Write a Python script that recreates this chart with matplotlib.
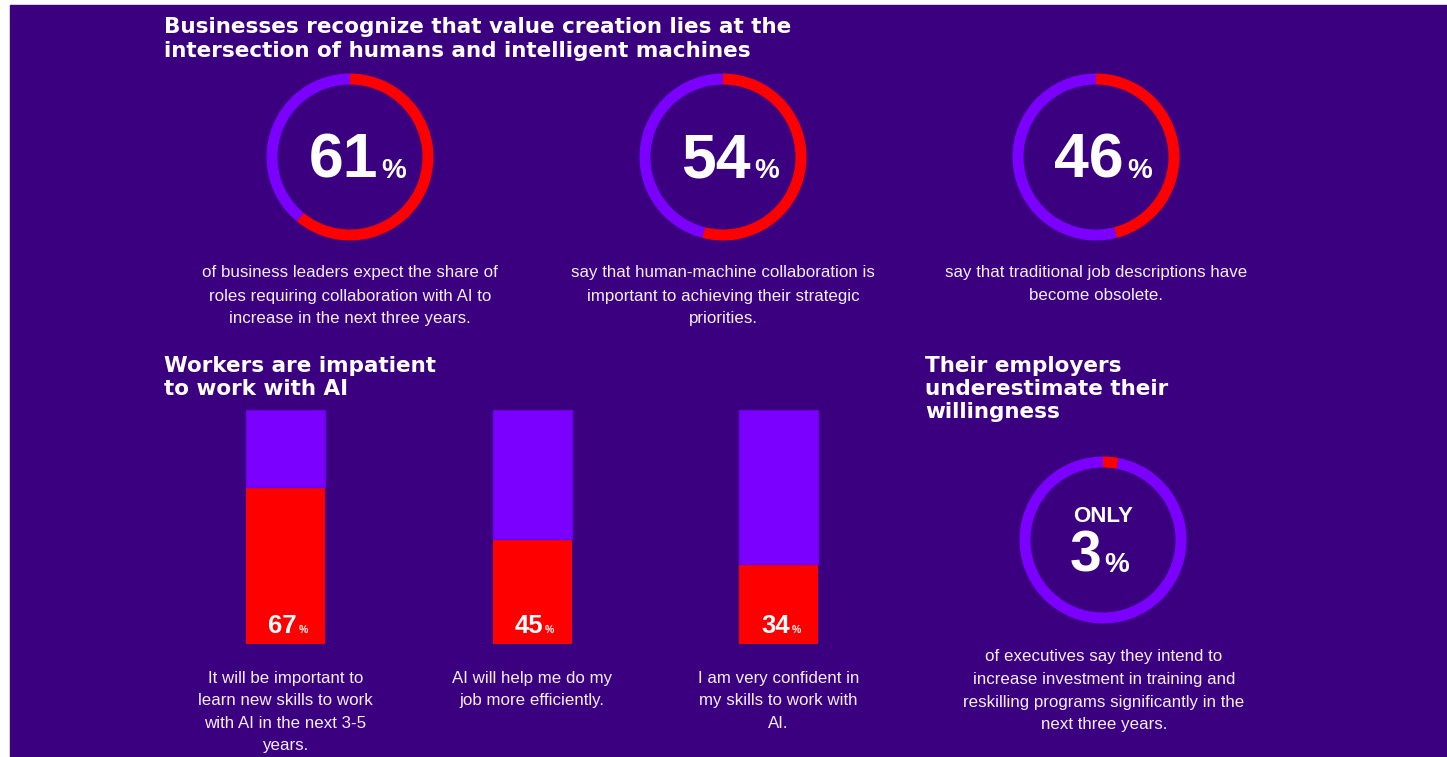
import matplotlib
matplotlib.use('Agg')
import matplotlib.pyplot as plt
from matplotlib.patches import Rectangle
import numpy as np

# 画布尺寸（像素）
W, H = 1447, 757

# 数据
ring_values = [61, 54, 46]
ring_captions = [
    ['of business leaders expect the share of',
     'roles requiring collaboration with AI to',
     'increase in the next three years.'],
    ['say that human-machine collaboration is',
     'important to achieving their strategic',
     'priorities.'],
    ['say that traditional job descriptions have',
     'become obsolete.'],
]
bar_values = np.array([67, 45, 34])
bar_captions = [
    ['It will be important to', 'learn new skills to work',
     'with AI in the next 3-5', 'years.'],
    ['AI will help me do my', 'job more efficiently.'],
    ['I am very confident in', 'my skills to work with', 'AI.'],
]
only_value = 3
only_caption = ['of executives say they intend to',
                'increase investment in training and',
                'reskilling programs significantly in the',
                'next three years.']

title1 = ['Businesses recognize that value creation lies at the',
          'intersection of humans and intelligent machines']
title2 = ['Workers are impatient', 'to work with AI']
title3 = ['Their employers', 'underestimate their', 'willingness']

BG = '#3a0080'
PURPLE = '#7b00ff'
RED = '#ff0000'
WHITE = 'white'

TITLE = dict(family=['DejaVu Sans'], weight='bold', color=WHITE)
NUM = dict(family=['Liberation Sans', 'DejaVu Sans'], weight='bold', color=WHITE)
BODY = dict(family=['Liberation Sans', 'DejaVu Sans'], color='#f4eeff')

fig = plt.figure(figsize=(W / 100, H / 100), dpi=100)
fig.patch.set_facecolor('white')
base = fig.add_axes([0, 0, 1, 1])
base.set_xlim(0, W)
base.set_ylim(H, 0)
base.axis('off')
base.add_patch(Rectangle((10, 5), W - 10, H - 5, color=BG, zorder=0))


def px_axes(x0, y0, w, h):
    return fig.add_axes([x0 / W, 1 - (y0 + h) / H, w / W, h / H])


def lines(x, y0, step, texts, ha='center', **kw):
    for i, t in enumerate(texts):
        base.text(x, y0 + i * step, t, ha=ha, **kw)


def donut(cx, cy, value):
    r = 83.5
    ax = px_axes(cx - r, cy - r, 2 * r, 2 * r)
    ax.pie([value, 100 - value], colors=[RED, PURPLE], startangle=90,
           counterclock=False, radius=1,
           wedgeprops=dict(width=11 / r, linewidth=0))
    ax.set_xlim(-1, 1)
    ax.set_ylim(-1, 1)
    ax.axis('off')
    return ax


# 标题
lines(164, 33, 24, title1, ha='left', va='baseline', fontsize=15.5, **TITLE)
lines(164, 372, 23, title2, ha='left', va='baseline', fontsize=15.5, **TITLE)
lines(925, 372, 23, title3, ha='left', va='baseline', fontsize=15.5, **TITLE)

# 三个环形图
ring_cx = [350, 723, 1096]
for cx, v, cap in zip(ring_cx, ring_values, ring_captions):
    donut(cx, 157, v)
    base.text(cx + 28, 178, str(v), ha='right', va='baseline', fontsize=45, **NUM)
    base.text(cx + 31, 178, '%', ha='left', va='baseline', fontsize=20, **NUM)
    lines(cx, 273, 23, cap, va='center', fontsize=12.2, **BODY)

# 柱状图
bar_left, bar_step, bar_top, bar_h = 162.25, 246.5, 410, 234
bax = px_axes(bar_left, bar_top, 3 * bar_step, bar_h)
x = np.arange(len(bar_values))
bax.bar(x, bar_values, width=79 / bar_step, color=RED, linewidth=0)
bax.bar(x, 100 - bar_values, bottom=bar_values, width=79 / bar_step,
        color=PURPLE, edgecolor='#6c00e6', linewidth=1)
bax.set_xlim(-0.5, 2.5)
bax.set_ylim(0, 100)
bax.axis('off')
lab_y = 100 * (644 - 633) / bar_h
for i, v in enumerate(bar_values):
    bax.text(i + 11 / bar_step, lab_y, str(v), ha='right', va='baseline',
             fontsize=18.5, zorder=5, **NUM)
    bax.text(i + 13 / bar_step, lab_y, '%', ha='left', va='baseline',
             fontsize=7.5, zorder=5, **NUM)
    lines(285.5 + i * bar_step, 678, 22.5, bar_captions[i], va='center',
          fontsize=12.2, **BODY)

# ONLY 3%
donut(1103, 540, only_value)
base.text(1103, 522, 'ONLY', ha='center', va='baseline', fontsize=16, **NUM)
base.text(1101, 572, str(only_value), ha='right', va='baseline', fontsize=41, **NUM)
base.text(1104, 572, '%', ha='left', va='baseline', fontsize=20, **NUM)
lines(1104, 657, 22.5, only_caption, va='center', fontsize=12.2, **BODY)

fig.savefig('out.png', dpi=100)
